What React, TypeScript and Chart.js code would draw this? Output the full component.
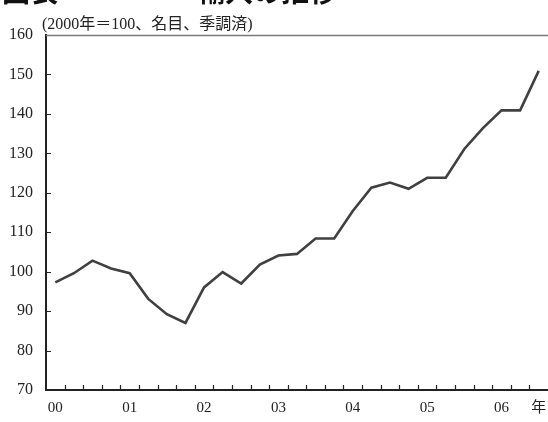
import React, { useEffect, useRef } from "react";
import { Chart, registerables } from "chart.js";

Chart.register(...registerables);

const quarters: string[] = [
  "00Q1","00Q2","00Q3","00Q4",
  "01Q1","01Q2","01Q3","01Q4",
  "02Q1","02Q2","02Q3","02Q4",
  "03Q1","03Q2","03Q3","03Q4",
  "04Q1","04Q2","04Q3","04Q4",
  "05Q1","05Q2","05Q3","05Q4",
  "06Q1","06Q2","06Q3",
];
const importIndex: number[] = [
  97.3, 99.6, 102.8, 100.8, 99.6, 93.1, 89.2, 87.0,
  96.0, 99.9, 97.0, 101.8, 104.1, 104.5, 108.4, 108.4,
  115.4, 121.3, 122.6, 121.0, 123.8, 123.8, 131.1, 136.4,
  140.9, 140.9, 150.9,
];
const yearLabels: string[] = ["00", "01", "02", "03", "04", "05", "06"];
const unitLabel = "年";
const noteText = "(2000年＝100、名目、季調済)";
const titleLeft = "図表";
const titleRight = "輸入の推移";

const SERIF = "'Liberation Serif', 'Noto Sans CJK JP', serif";

const decorPlugin = {
  id: "decor",
  afterDraw(chart: any) {
    const { ctx, chartArea } = chart;
    const xs = chart.scales.x;
    const ys = chart.scales.y;
    ctx.save();
    // top border
    ctx.strokeStyle = "#7a7a7a";
    ctx.lineWidth = 1.5;
    ctx.beginPath();
    ctx.moveTo(chartArea.left, chartArea.top + 0.5);
    ctx.lineTo(chartArea.right, chartArea.top + 0.5);
    ctx.stroke();
    // inward ticks
    ctx.strokeStyle = "#222";
    ctx.lineWidth = 1.2;
    ctx.beginPath();
    ys.ticks.forEach((t: any) => {
      if (t.value <= ys.min || t.value >= ys.max) return;
      const y = Math.round(ys.getPixelForValue(t.value)) + 0.5;
      ctx.moveTo(chartArea.left, y);
      ctx.lineTo(chartArea.left + 5, y);
    });
    for (let i = 1; i <= quarters.length; i++) {
      const x0 = xs.getPixelForValue(i - 1);
      const step = i < quarters.length ? xs.getPixelForValue(i) - x0 : x0 - xs.getPixelForValue(i - 2);
      const x = Math.round(x0 + step / 2) + 0.5;
      if (x >= chartArea.right - 1) continue;
      ctx.moveTo(x, chartArea.bottom);
      ctx.lineTo(x, chartArea.bottom - 5);
    }
    ctx.stroke();
    // note
    ctx.fillStyle = "#222";
    ctx.font = "16px " + SERIF;
    ctx.textAlign = "left";
    ctx.textBaseline = "alphabetic";
    ctx.fillText(noteText, 42, 29);
    // clipped title
    ctx.font = "bold 28px 'Noto Sans CJK JP', sans-serif";
    ctx.fillStyle = "#111";
    ctx.textAlign = "left";
    ctx.fillText(titleLeft, 2, 2);
    ctx.textAlign = "right";
    ctx.fillText(titleRight, 337, 2);
    ctx.restore();
  },
};

export default function App() {
  const ref = useRef<HTMLCanvasElement>(null);
  useEffect(() => {
    if (!ref.current) return;
    const chart = new Chart(ref.current, {
      type: "line",
      data: {
        labels: quarters,
        datasets: [
          {
            data: importIndex,
            borderColor: "#404040",
            borderWidth: 2.6,
            pointRadius: 0,
            tension: 0,
            fill: false,
          },
        ],
      },
      options: {
        animation: false,
        responsive: false,
        devicePixelRatio: 1,
        layout: { padding: { left: 0, right: 0, top: 35, bottom: 0 } },
        plugins: { legend: { display: false }, tooltip: { enabled: false }, title: { display: false } },
        scales: {
          x: {
            type: "category",
            offset: true,
            grid: { display: false, drawTicks: false },
            border: { display: true, color: "#222", width: 2 },
            afterFit: (s: any) => { s.height = 32; s.paddingLeft = 0; s.paddingRight = 0; },
            ticks: {
              autoSkip: false,
              maxRotation: 0,
              padding: 9,
              color: "#222",
              font: { family: SERIF, size: 15 },
              callback: (_v: any, i: number) => {
                if (i === quarters.length - 1) return unitLabel;
                if (i % 4 === 0) return yearLabels[i / 4];
                return "";
              },
            },
          },
          y: {
            min: 70,
            max: 160,
            grid: { display: false, drawTicks: false },
            border: { display: true, color: "#222", width: 2 },
            afterFit: (s: any) => { s.width = 46; s.paddingTop = 0; s.paddingBottom = 0; },
            ticks: {
              stepSize: 10,
              padding: 13,
              color: "#222",
              font: { family: SERIF, size: 16 },
            },
          },
        },
      },
      plugins: [decorPlugin],
    });
    return () => chart.destroy();
  }, []);
  return (
    <div style={{ position: "fixed", left: 0, top: 0, width: 548, height: 422, background: "#fff" }}>
      <canvas ref={ref} width={548} height={422} style={{ display: "block" }} />
    </div>
  );
}
